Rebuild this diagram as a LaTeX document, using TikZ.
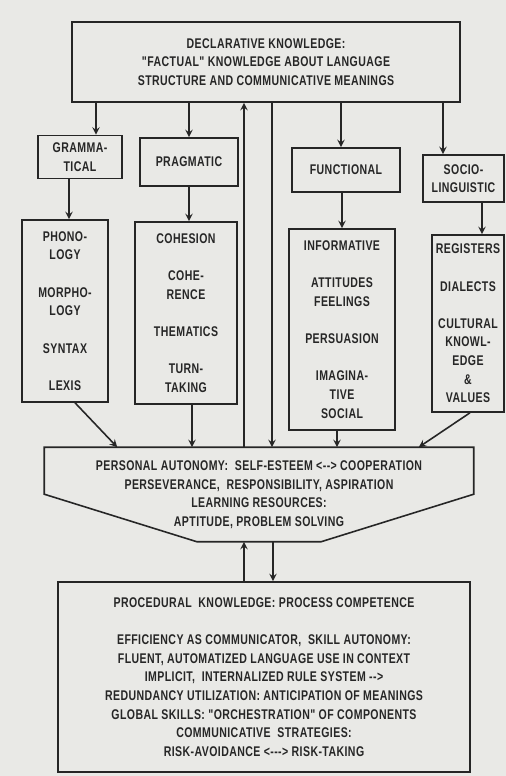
\documentclass[tikz,border=0pt]{standalone}
\usepackage{fontspec}
\newfontfamily\scanfont{Liberation Sans}[FakeStretch=0.75,LetterSpace=3]
\usepackage{tikz}
\usetikzlibrary{arrows,positioning,calc}
\definecolor{paper}{RGB}{233,233,230}
\definecolor{ink}{RGB}{38,38,38}

\begin{document}
\begin{tikzpicture}[
    x=0.02cm, y=-0.02cm,
    box/.style={rectangle, draw=ink, line width=0.9pt, inner sep=2pt, align=center, text=ink,
                font=\scanfont\bfseries\fontsize{8}{10.6}\selectfont},
    arrow/.style={->, >=stealth, draw=ink, line width=0.9pt},
    line/.style={draw=ink, line width=0.9pt}
]
    % Paper
    \fill[paper] (0,0) rectangle (506,776);
    \useasboundingbox (0,0) rectangle (506,776);

    % Declarative knowledge -- top
    \node[box, minimum width=7.76cm, minimum height=1.6cm] (decl) at (266,62)
        {DECLARATIVE KNOWLEDGE:\\"FACTUAL" KNOWLEDGE ABOUT LANGUAGE\\STRUCTURE AND COMMUNICATIVE MEANINGS};

    % Four areas
    \node[box, minimum width=1.68cm, minimum height=0.86cm] (gram)  at (80,157)    {GRAMMA-\\TICAL};
    \node[box, minimum width=1.96cm, minimum height=0.96cm] (prag)  at (189,162)   {PRAGMATIC};
    \node[box, minimum width=2.16cm, minimum height=0.88cm] (func)  at (346,170)   {FUNCTIONAL};
    \node[box, minimum width=1.62cm, minimum height=0.94cm] (socio) at (463.5,178.5) {SOCIO-\\LINGUISTIC};

    % Components of each area
    \node[box, minimum width=1.72cm, minimum height=3.64cm] (phon) at (65,311)
        {PHONO-\\LOGY\\[10.6pt]MORPHO-\\LOGY\\[10.6pt]SYNTAX\\[10.6pt]LEXIS};
    \node[box, minimum width=2.04cm, minimum height=3.64cm] (coh) at (186,313)
        {COHESION\\[10.6pt]COHE-\\RENCE\\[10.6pt]THEMATICS\\[10.6pt]TURN-\\TAKING};
    \node[box, minimum width=2.12cm, minimum height=4.02cm] (info) at (342,329.5)
        {INFORMATIVE\\[10.6pt]ATTITUDES\\FEELINGS\\[10.6pt]PERSUASION\\[10.6pt]IMAGINA-\\TIVE\\SOCIAL};
    \node[box, minimum width=1.44cm, minimum height=3.54cm] (reg) at (468,323.5)
        {REGISTERS\\[10.6pt]DIALECTS\\[10.6pt]CULTURAL\\KNOWL-\\EDGE\\\&\\VALUES};

    % Personal autonomy -- funnel shape
    \node[box, draw=none, minimum width=8.56cm, minimum height=1.86cm] (auto) at (259,494.5)
        {PERSONAL AUTONOMY:\ \ SELF-ESTEEM <-{}-> COOPERATION\\PERSEVERANCE,\ \ RESPONSIBILITY, ASPIRATION\\LEARNING RESOURCES:\\APTITUDE, PROBLEM SOLVING};
    \draw[line] (auto.north west) -- (auto.north east) -- ([yshift=-0.94cm]auto.north east)
        -- ([xshift=1.24cm]auto.south) -- ([xshift=-1.24cm]auto.south)
        -- ([yshift=-0.94cm]auto.north west) -- cycle;

    % Procedural knowledge -- bottom
    \node[box, minimum width=8.24cm, minimum height=3.8cm] (proc) at (264,677)
        {PROCEDURAL\ \ KNOWLEDGE: PROCESS COMPETENCE\\[10.6pt]
         EFFICIENCY AS COMMUNICATOR,\ \ SKILL AUTONOMY:\\
         FLUENT, AUTOMATIZED LANGUAGE USE IN CONTEXT\\
         IMPLICIT,\ \ INTERNALIZED RULE SYSTEM -{}->\\
         REDUNDANCY UTILIZATION: ANTICIPATION OF MEANINGS\\
         GLOBAL SKILLS: "ORCHESTRATION" OF COMPONENTS\\
         COMMUNICATIVE\ \ STRATEGIES:\\
         RISK-AVOIDANCE <-{}-{}-> RISK-TAKING};

    % Declarative -> areas
    \draw[arrow] ([xshift=0.32cm]gram.north |- decl.south) -- ([xshift=0.32cm]gram.north);
    \draw[arrow] (prag.north |- decl.south) -- (prag.north);
    \draw[arrow] ([xshift=-0.1cm]func.north |- decl.south) -- ([xshift=-0.1cm]func.north);
    \draw[arrow] ([xshift=-0.41cm]socio.north |- decl.south) -- ([xshift=-0.41cm]socio.north);

    % Areas -> components
    \draw[arrow] ([xshift=-0.22cm]gram.south) -- ([xshift=-0.22cm]gram.south |- phon.north);
    \draw[arrow] (prag.south) -- (prag.south |- coh.north);
    \draw[arrow] (info.north |- func.south) -- (info.north);
    \draw[arrow] ([xshift=0.28cm]reg.north |- socio.south) -- ([xshift=0.28cm]reg.north);

    % Components -> personal autonomy
    \draw[arrow] ([xshift=0.2cm]phon.south) -- ([xshift=1.46cm]auto.north west);
    \draw[arrow] ([xshift=0.12cm]coh.south) -- ([xshift=0.12cm]coh.south |- auto.north);
    \draw[arrow] ([xshift=-0.1cm]info.south) -- ([xshift=-0.1cm]info.south |- auto.north);
    \draw[arrow] ([xshift=0.04cm]reg.south) -- ([xshift=-1.1cm]auto.north east);

    % Personal autonomy <-> declarative
    \draw[arrow] ([xshift=-0.3cm]auto.north) -- ([xshift=-0.3cm]auto.north |- decl.south);
    \draw[arrow] ([xshift=0.26cm]auto.north |- decl.south) -- ([xshift=0.26cm]auto.north);

    % Personal autonomy <-> procedural
    \draw[arrow] ([xshift=-0.3cm]auto.south |- proc.north) -- ([xshift=-0.3cm]auto.south);
    \draw[arrow] ([xshift=0.28cm]auto.south) -- ([xshift=0.28cm]auto.south |- proc.north);

\end{tikzpicture}
\end{document}
